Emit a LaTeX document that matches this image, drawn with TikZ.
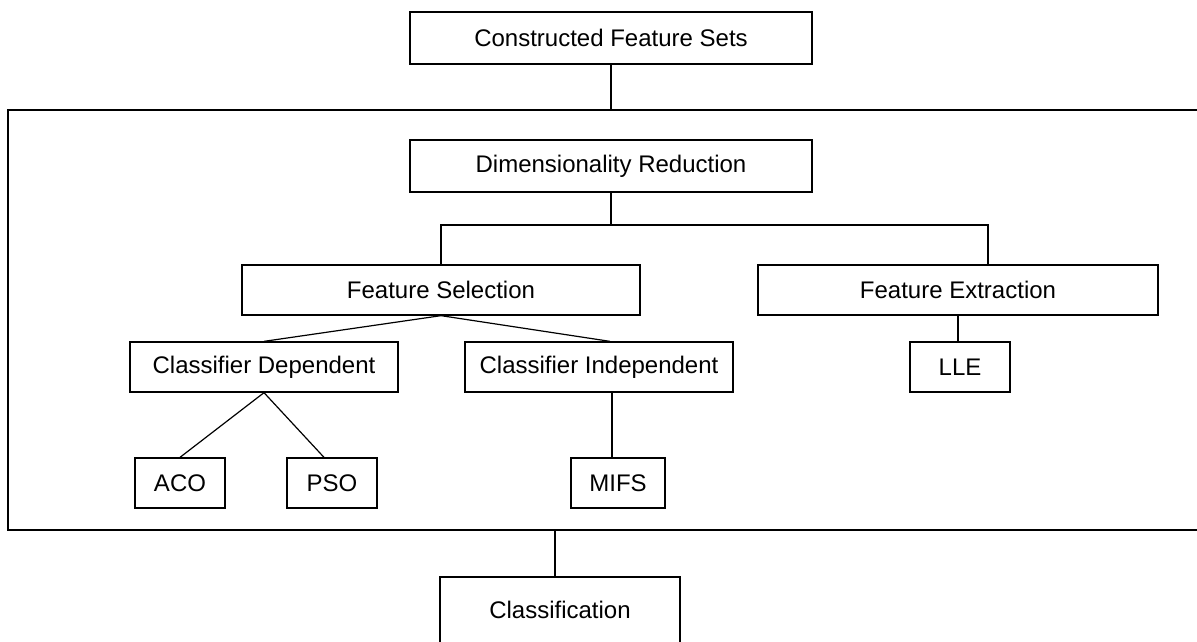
\documentclass[tikz,border=0pt]{standalone}
\usepackage{fontspec}
\setmainfont{Liberation Sans}
\begin{document}
\begin{tikzpicture}[x=1pt,y=-1pt,
  box/.style={draw, line width=1.3pt, inner sep=0pt, minimum height=50pt, font=\fontsize{24}{28}\selectfont},
  link/.style={line width=1.2pt}]
\useasboundingbox (0,0) rectangle (1197,641);
\clip (0,0) rectangle (1197,641);

% outer frame around the reduction stage (runs past the right edge)
\node[draw, line width=1.8pt, minimum width=1202pt, minimum height=420pt, inner sep=0pt] (frame) at (609,320) {};

\node[box, minimum width=402pt, minimum height=52pt] (cfs) at (611,38) {Constructed Feature Sets};
\node[box, minimum width=402pt, minimum height=52pt] (dr) at (611,166) {Dimensionality Reduction};
\node[box, minimum width=398pt] (fs) at (441,290) {Feature Selection};
\node[box, minimum width=400pt] (fe) at (958,290) {Feature Extraction};
\node[box, minimum width=100pt] (lle) at (960,367) {LLE};
\node[box, minimum width=268pt] (cd) at (264,367) {Classifier Dependent};
\node[box, minimum width=268pt] (ci) at (599,367) {Classifier Independent};
\node[box, minimum width=90pt] (aco) at (180,483) {ACO};
\node[box, minimum width=90pt] (pso) at (332,483) {PSO};
\node[box, minimum width=94pt] (mifs) at (618,483) {MIFS};
\node[box, minimum width=240pt, minimum height=66pt] (cls) at (560,610) {Classification};

\coordinate (j1) at (611,225);

\draw[link] (cfs.south) -- (cfs.south |- frame.north);
\draw[link] (dr.south) -- (j1);
\draw[link] (fs.north) |- (j1) -| ([xshift=30pt]fe.north);
\draw[link] (fs.south) -- (cd.north);
\draw[link] (fs.south) -- ([xshift=11pt]ci.north);
\draw[link] (fe.south) -- (fe.south |- lle.north);
\draw[link] (cd.south) -- (aco.north);
\draw[link] (cd.south) -- ([xshift=-8pt]pso.north);
\draw[link] ([xshift=13pt]ci.south) -- ([xshift=13pt]ci.south |- mifs.north);
\draw[link] ([xshift=-5pt]cls.north) -- ([xshift=-5pt]cls.north |- frame.south);
\end{tikzpicture}
\end{document}
